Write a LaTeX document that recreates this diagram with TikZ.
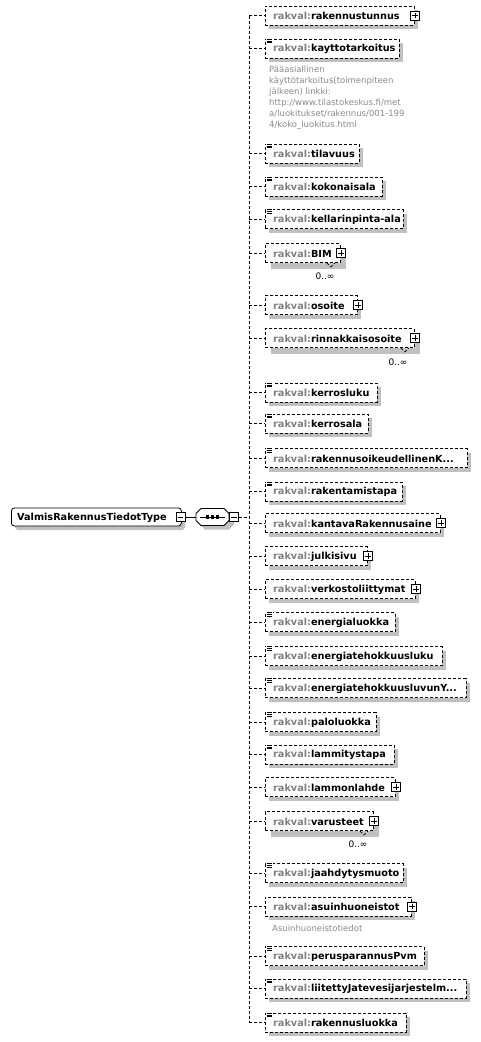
\documentclass[tikz,border=0pt]{standalone}
\usepackage{fontspec}
\setmainfont{DejaVu Sans}
\usetikzlibrary{calc}
\definecolor{shadowgray}{HTML}{C0C0C0}
\definecolor{prefixgray}{HTML}{808080}
\definecolor{docgray}{HTML}{8A8A8A}
\tikzset{
  dashline/.style={line width=0.9pt, dash pattern=on 3pt off 2pt},
  elembox/.style={draw, fill=white, dashline, minimum height=19pt, inner sep=0pt, anchor=west},
  pbox/.style={draw, fill=white, solid, line width=0.8pt, minimum size=9pt, inner sep=0pt},
  lbl/.style={anchor=west, inner sep=0pt, font=\fontsize{9.7}{11}\selectfont\bfseries},
  doc/.style={anchor=north west, inner sep=0pt, align=left, text=docgray, font=\fontsize{8.5}{11}\selectfont},
  card/.style={inner sep=0pt, font=\fontsize{9}{10}\selectfont},
  thin/.style={line width=0.8pt, solid},
}
% #1 id, #2 centre y, #3 right x, #4 name, #5 shadow offset
\newcommand\xelem[5]{%
  \fill[shadowgray] (265+#5,#2-9.5+#5) rectangle (#3+#5,#2+9.5+#5);
  \node[elembox, minimum width={(#3-265)*1pt}] (#1) at (265,#2) {};
  \node[lbl] (#1t) at (273,#2+0.5) {\textcolor{prefixgray}{rakval:}#4};
  \coordinate (#1c) at (249,#2);
  \draw[dashline] (#1c) -- (#1.west);
}
\newcommand\xplus[1]{%
  \node[pbox] (#1p) at (#1.east) {};
  \draw[thin] ($(#1p.center)+(-2.6,0)$) -- ++(5.2,0);
  \draw[thin] ($(#1p.center)+(0,-2.6)$) -- ++(0,5.2);
}
\newcommand\xdoc[1]{%
  \fill[white] ($(#1.north west)+(1,-0.5)$) rectangle ++(6.5,5);
  \foreach \k in {0.6,2.3,4.0}{\draw[line width=0.7pt] ($(#1.north west)+(1.5,\k)$) -- ++(5.5,0);}
}
\newcommand\xmulti[1]{%
  \draw[dashline, line width=0.7pt] ($(#1.south east)+(-14,0)$) -- ++(4,4) -- ++(4,-4);
}
\begin{document}
\begin{tikzpicture}[x=1pt,y=-1pt]
\useasboundingbox (0,0) rectangle (480,1042);
\fill[white] (0,0) rectangle (480,1042);

% main type box
\fill[shadowgray, rounded corners=3pt] (15,512) rectangle (185,530);
\node[draw, fill=white, rounded corners=3pt, line width=0.8pt, minimum width=170pt, minimum height=18pt, inner sep=0pt, anchor=west] (main) at (11,517) {};
\node[lbl] (maint) at (17,517.5) {ValmisRakennusTiedotType};
\node[pbox] (mainm) at (180.5,517) {};
\draw[thin] ($(mainm.center)+(-2.6,0)$) -- ++(5.2,0);

% sequence compositor
\fill[shadowgray] (205,512.5) -- (229,512.5) -- (234,517.5) -- (234,524.5) -- (229,529.5) -- (205,529.5) -- (200,524.5) -- (200,517.5) -- cycle;
\draw[fill=white, line width=0.8pt] (201,508.5) -- (224,508.5) -- (229,513.5) -- (229,520.5) -- (224,525.5) -- (201,525.5) -- (196,520.5) -- (196,513.5) -- cycle;
\coordinate (seqW) at (196,517);
\draw[line width=0.8pt] (200,517) -- (225,517);
\foreach \d in {207.5,212.5,217.5}{\fill (\d-1.6,515.4) rectangle (\d+1.6,518.6);}
\node[pbox] (seqm) at (234,517) {};
\draw[thin] ($(seqm.center)+(-2.6,0)$) -- ++(5.2,0);
\draw[line width=0.8pt] (mainm.east) -- (seqW);
\coordinate (trunkmid) at (249,517);
\draw[dashline] (seqm.east) -- (trunkmid);

% elements
\xelem{e1}{15.5}{414}{rakennustunnus}{4}\xplus{e1}
\xelem{e2}{48.5}{399}{kayttotarkoitus}{4}\xdoc{e2}
\node[doc] (e2d) at (269,65.5) {Pääasiallinen\\käyttötarkoitus(toimenpiteen\\jälkeen) linkki:\\http://www.tilastokeskus.fi/met\\a/luokitukset/rakennus/001-199\\4/koko\_luokitus.html};
\xelem{e3}{153.5}{359}{tilavuus}{4}\xdoc{e3}
\xelem{e4}{186.5}{382}{kokonaisala}{4}\xdoc{e4}
\xelem{e5}{219}{403}{kellarinpinta-ala}{4}\xdoc{e5}
\xelem{e6}{253}{340}{BIM}{6}\xplus{e6}\xmulti{e6}
\node[card] (e6n) at (325,276) {0..∞};
\xelem{e7}{305}{357}{osoite}{4}\xplus{e7}
\xelem{e8}{338}{414}{rinnakkaisosoite}{6}\xplus{e8}\xmulti{e8}
\node[card] (e8n) at (398,362) {0..∞};
\xelem{e9}{392.5}{377}{kerrosluku}{4}\xdoc{e9}
\xelem{e10}{423.5}{368}{kerrosala}{4}\xdoc{e10}
\xelem{e11}{458}{467}{rakennusoikeudellinenK...}{4}\xdoc{e11}
\xelem{e12}{491.5}{402}{rakentamistapa}{4}\xdoc{e12}
\xelem{e13}{523}{440}{kantavaRakennusaine}{4}\xplus{e13}
\xelem{e14}{556}{367}{julkisivu}{4}\xplus{e14}
\xelem{e15}{589}{415}{verkostoliittymat}{4}\xplus{e15}
\xelem{e16}{622}{395}{energialuokka}{4}\xdoc{e16}
\xelem{e17}{656}{442}{energiatehokkuusluku}{4}\xdoc{e17}
\xelem{e18}{688}{466}{energiatehokkuusluvunY...}{4}\xdoc{e18}
\xelem{e19}{722}{376}{paloluokka}{4}\xdoc{e19}
\xelem{e20}{754.5}{394}{lammitystapa}{4}\xdoc{e20}
\xelem{e21}{787}{395}{lammonlahde}{4}\xplus{e21}
\xelem{e22}{821}{373}{varusteet}{6}\xplus{e22}\xmulti{e22}
\node[card] (e22n) at (358,844) {0..∞};
\xelem{e23}{873}{403}{jaahdytysmuoto}{4}\xdoc{e23}
\xelem{e24}{906.5}{411}{asuinhuoneistot}{4}\xplus{e24}
\node[doc, anchor=west] (e24d) at (272,928) {Asuinhuoneistotiedot};
\xelem{e25}{956}{424}{perusparannusPvm}{4}\xdoc{e25}
\xelem{e26}{988.5}{466}{liitettyJatevesijarjestelm...}{4}\xdoc{e26}
\xelem{e27}{1022.5}{406}{rakennusluokka}{4}\xdoc{e27}

% trunk
\draw[dashline] (e1c) -- (e27c);
\end{tikzpicture}
\end{document}
